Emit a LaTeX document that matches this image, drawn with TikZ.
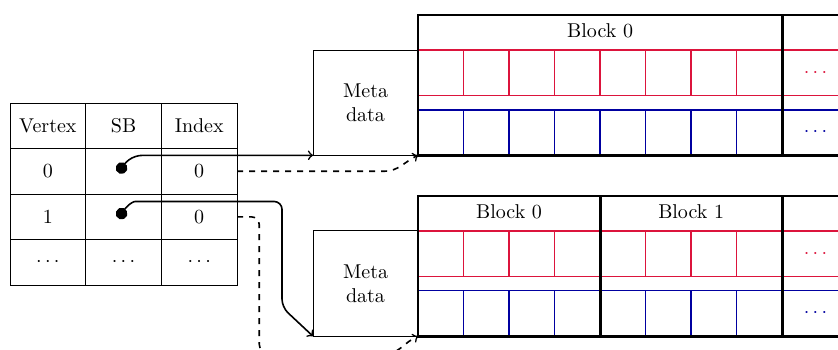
\documentclass[tikz,border=0pt]{standalone}
\usepackage{tikz}
\usetikzlibrary{positioning, calc, arrows}
\definecolor{slotred}{RGB}{220,20,60}
\definecolor{slotblue}{RGB}{0,0,160}
\tikzset{
    cell/.style={draw, line width=0.5pt, minimum width=1.33cm, minimum height=0.8cm, inner sep=0pt, outer sep=0pt},
    meta/.style={draw, line width=0.5pt, minimum width=1.845cm, minimum height=1.85cm, align=center, inner sep=0pt, outer sep=0pt},
    slot/.style={draw, line width=0.75pt, minimum width=0.8cm, minimum height=0.8cm, inner sep=0pt, outer sep=0pt},
    frame/.style={line width=1.4pt},
    link/.style={thick, *->},
    idxlink/.style={thick, dashed, ->},
}

\begin{document}
\begin{tikzpicture}
    \useasboundingbox (0,0) rectangle (14.726,-6.133);
    \clip (0,0) rectangle (14.726,-6.133);

    % vertex table
    \node[cell, anchor=north west] (hv) at (0.176,-1.81) {Vertex};
    \node[cell, right=0pt of hv] (hs) {SB};
    \node[cell, right=0pt of hs] (hi) {Index};
    \node[cell, below=0pt of hv] (v0) {0};
    \node[cell, right=0pt of v0] (s0) {};
    \node[cell, right=0pt of s0] (i0) {0};
    \node[cell, below=0pt of v0] (v1) {1};
    \node[cell, right=0pt of v1] (s1) {};
    \node[cell, right=0pt of s1] (i1) {0};
    \node[cell, below=0pt of v1] (v2) {$\cdots$};
    \node[cell, right=0pt of v2] (s2) {$\cdots$};
    \node[cell, right=0pt of s2] (i2) {$\cdots$};

    % superblock A: one block of 8 slots
    \coordinate (sbA) at (7.346,-2.729);
    \node[meta, anchor=south east] (metaA) at (sbA) {Meta\\data};
    \foreach \i in {0,...,7} {
        \node[slot, draw=slotblue, anchor=south west] (A-b\i) at ($(sbA)+(0.8*\i,0)$) {};
        \node[slot, draw=slotred, anchor=south west] (A-r\i) at ($(sbA)+(0.8*\i,1.05)$) {};
    }
    \node[slot, draw=slotblue, text=slotblue, minimum width=1.17cm, right=0pt of A-b7] (A-bm) {$\cdots$};
    \node[slot, draw=slotred, text=slotred, minimum width=1.17cm, right=0pt of A-r7] (A-rm) {$\cdots$};
    \draw[frame] (sbA) rectangle ++(6.4,2.465);
    \draw[frame] ($(sbA)+(6.4,0)$) rectangle ++(1.5,2.465);
    \node (A-h0) at ($(sbA)+(3.2,2.19)$) {Block 0};

    % superblock B: two blocks of 4 slots
    \coordinate (sbB) at (7.346,-5.909);
    \node[meta, anchor=south east] (metaB) at (sbB) {Meta\\data};
    \foreach \i in {0,...,7} {
        \node[slot, draw=slotblue, anchor=south west] (B-b\i) at ($(sbB)+(0.8*\i,0)$) {};
        \node[slot, draw=slotred, anchor=south west] (B-r\i) at ($(sbB)+(0.8*\i,1.05)$) {};
    }
    \node[slot, draw=slotblue, text=slotblue, minimum width=1.17cm, right=0pt of B-b7] (B-bm) {$\cdots$};
    \node[slot, draw=slotred, text=slotred, minimum width=1.17cm, right=0pt of B-r7] (B-rm) {$\cdots$};
    \draw[frame] (sbB) rectangle ++(3.2,2.465);
    \draw[frame] ($(sbB)+(3.2,0)$) rectangle ++(3.2,2.465);
    \draw[frame] ($(sbB)+(6.4,0)$) rectangle ++(1.5,2.465);
    \node (B-h0) at ($(sbB)+(1.6,2.19)$) {Block 0};
    \node (B-h1) at ($(sbB)+(4.8,2.19)$) {Block 1};

    % pointers
    \draw[link] ($(s0.center)+(-0.07,-0.04)$) to[out=70,in=180] ($(s0.center |- metaA.south)+(0.35,0)$) -- (metaA.south west);
    \draw[idxlink] (i0.east) -- ($(i0.east -| sbA)+(-0.6,0)$) to[out=0,in=205] (sbA);
    \draw[link, rounded corners=4pt] ($(s1.center)+(-0.07,-0.04)$) to[out=70,in=180] ($(s1.center)+(0.35,0.27)$)
        -| ($(metaB.south west)+(-0.545,0.51)$) -- (metaB.south west);
    \draw[idxlink, rounded corners=4pt] (i1.east) -| ($(sbB)+(-2.79,-0.28)$)
        -- ($(sbB)+(-0.6,-0.28)$) to[out=0,in=205] (sbB);
\end{tikzpicture}
\end{document}
